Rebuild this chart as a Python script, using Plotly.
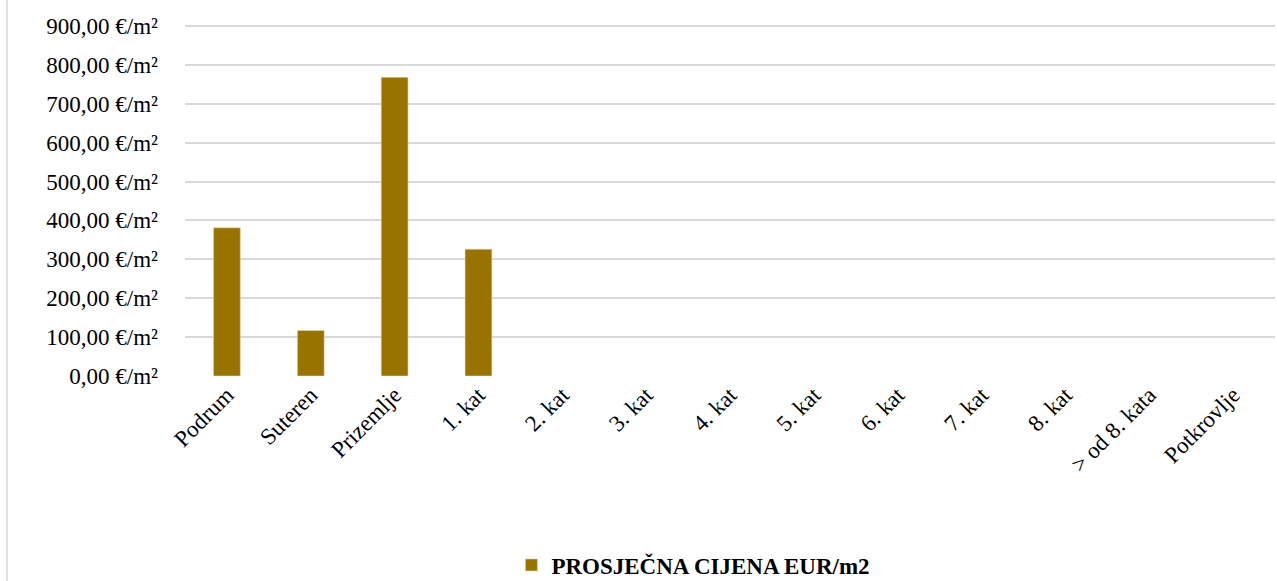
import plotly.graph_objects as go

categories = ["Podrum", "Suteren", "Prizemlje", "1. kat", "2. kat", "3. kat", "4. kat",
              "5. kat", "6. kat", "7. kat", "8. kat", "> od 8. kata", "Potkrovlje"]
values = [381, 117, 768, 326, None, None, None, None, None, None, None, None, None]
series_name = "PROSJEČNA CIJENA EUR/m2"
y_ticks = [0, 100, 200, 300, 400, 500, 600, 700, 800, 900]
y_ticktext = [f"{v:.2f}".replace(".", ",") + " €/m²" for v in y_ticks]

W, H = 1277, 581
ml, mr, mt, mb = 185, 2, 24, 205
FONT = "Liberation Serif, Times New Roman, serif"
FS = 23

fig = go.Figure()
fig.add_trace(go.Bar(
    x=categories, y=values, name=series_name,
    marker=dict(color="#997300", line=dict(color="#e6d9b0", width=0.6)),
    width=0.32,
))

fig.update_layout(
    width=W, height=H,
    margin=dict(l=ml, r=mr, t=mt, b=mb, autoexpand=False),
    paper_bgcolor="white", plot_bgcolor="white",
    font=dict(family=FONT, size=FS, color="black"),
    showlegend=True,
    legend=dict(orientation="h", x=0.543, xanchor="center", xref="container",
                y=1 - 565 / H, yanchor="middle", yref="container",
                font=dict(size=FS, family=FONT, weight="bold"),
                itemwidth=30),
)
fig.update_xaxes(tickangle=-45, showgrid=False, showline=False, ticks="",
                 tickfont=dict(size=FS), automargin=False)
fig.update_yaxes(range=[0, 905], tickvals=y_ticks, ticktext=y_ticktext,
                 showgrid=True, gridcolor="#d9d9d9", gridwidth=1.5, zeroline=False,
                 showline=False, ticks="", tickfont=dict(size=FS),
                 ticklabelstandoff=26, automargin=False)

pw = W - ml - mr
fig.add_shape(type="line", xref="paper", yref="paper",
              x0=(7 - ml) / pw, x1=(7 - ml) / pw,
              y0=-mb / (H - mt - mb), y1=(H - mt) / (H - mt - mb),
              line=dict(color="#d9d9d9", width=1.5))

fig.write_html("out.html", config={"displayModeBar": False},
               post_script="document.body.style.margin='0';document.body.style.overflow='hidden';")
